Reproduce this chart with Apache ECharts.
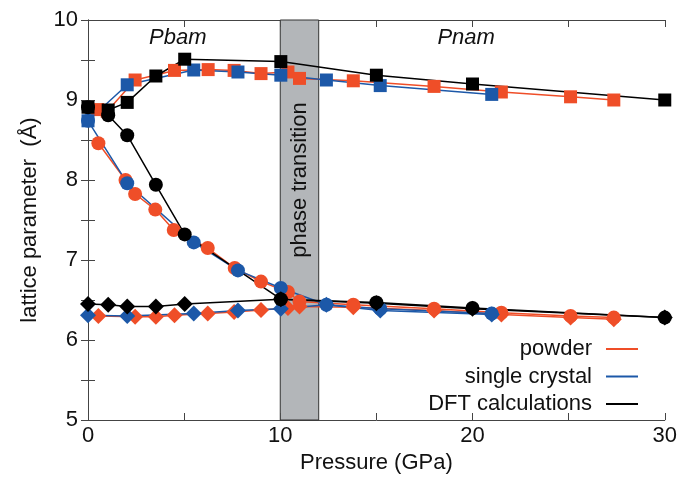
<!DOCTYPE html>
<html>
<head>
<meta charset="utf-8">
<script src="https://cdn.jsdelivr.net/npm/echarts@6/dist/echarts.min.js"></script>
<style>html,body{margin:0;padding:0;background:#fff}#c{width:680px;height:479px}</style>
</head>
<body>
<div id="c"></div>
<script>
// ---- data ----
var powderP_sq = [0.5, 1.0, 2.45, 4.5, 6.25, 7.6, 9.0, 10.4, 11.0, 13.8, 18.0, 21.5, 25.1, 27.35];
var powderB    = [8.88, 8.86, 9.25, 9.37, 9.38, 9.37, 9.33, 9.35, 9.27, 9.24, 9.17, 9.10, 9.04, 9.00];
var powderP_ci = [0.54, 1.95, 2.45, 3.5, 4.46, 6.23, 7.63, 9.0, 10.4, 11.0, 13.8, 18.0, 21.5, 25.1, 27.35];
var powderA    = [8.46, 8.0, 7.825, 7.63, 7.375, 7.15, 6.90, 6.73, 6.60, 6.48, 6.44, 6.39, 6.34, 6.30, 6.28];
var powderP_di = [0.54, 2.45, 3.53, 4.5, 6.23, 7.6, 9.0, 10.4, 11.0, 13.8, 18.0, 21.5, 25.1, 27.35];
var powderC    = [6.30, 6.29, 6.29, 6.31, 6.33, 6.35, 6.375, 6.40, 6.42, 6.41, 6.37, 6.32, 6.28, 6.26];

var crystalP = [0, 2.04, 5.5, 7.8, 10.03, 12.4, 15.2, 21.0];
var crystalB = [8.74, 9.19, 9.375, 9.35, 9.31, 9.25, 9.18, 9.07];
var crystalA = [8.74, 7.96, 7.22, 6.87, 6.65, 6.44, 6.39, 6.33];
var crystalC = [6.31, 6.30, 6.33, 6.37, 6.39, 6.44, 6.37, 6.32];

var dftP = [0, 1.05, 2.04, 3.53, 5.03, 10.03, 15, 20, 30];
var dftB = [8.91, 8.875, 8.97, 9.30, 9.51, 9.48, 9.31, 9.20, 9.00];
var dftA = [8.91, 8.81, 8.56, 7.94, 7.32, 6.51, 6.47, 6.40, 6.28];
var dftC = [6.45, 6.44, 6.42, 6.42, 6.45, 6.51, 6.46, 6.39, 6.28];

var xTickLabels = ['0', '10', '20', '30'];
var yTickLabels = ['5', '6', '7', '8', '9', '10'];
var transition = [10, 12];

var RED = '#ef4e28', BLUE = '#1c58a8', BLACK = '#000000';
var FONT = '"Liberation Sans", Arial, sans-serif';

function zip(xs, ys) { return xs.map(function (x, i) { return [x, ys[i]]; }); }
function ser(name, xs, ys, color, symbol, size) {
  return {
    name: name, type: 'line', data: zip(xs, ys), symbol: symbol, symbolSize: size,
    lineStyle: { color: color, width: 1.5 }, itemStyle: { color: color },
    emphasis: { disabled: true }, z: 3
  };
}

var series = [
  { name: 'band', type: 'line', data: [], z: 1,
    markArea: { silent: true,
      itemStyle: { color: '#b3b6b9', borderColor: '#333', borderWidth: 1 },
      data: [[{ xAxis: transition[0] }, { xAxis: transition[1] }]] } },
  ser('powder', powderP_sq, powderB, RED, 'rect', 13),
  ser('powder', powderP_ci, powderA, RED, 'circle', 14),
  ser('powder', powderP_di, powderC, RED, 'diamond', 16),
  ser('single crystal', crystalP, crystalB, BLUE, 'rect', 13),
  ser('single crystal', crystalP, crystalA, BLUE, 'circle', 14),
  ser('single crystal', crystalP, crystalC, BLUE, 'diamond', 16),
  ser('DFT calculations', dftP, dftB, BLACK, 'rect', 13),
  ser('DFT calculations', dftP, dftA, BLACK, 'circle', 14),
  ser('DFT calculations', dftP, dftC, BLACK, 'diamond', 16)
];

var axisLine = { show: true, lineStyle: { color: '#444', width: 1 } };
var tick = { show: true, inside: true, length: 7, lineStyle: { color: '#444' } };

var chart = echarts.init(document.getElementById('c'), null, { renderer: 'canvas' });
chart.setOption({
  animation: false,
  backgroundColor: '#fff',
  grid: { left: 88, right: 14, top: 20, bottom: 59 },
  legend: {
    data: ['powder', 'single crystal', 'DFT calculations'],
    orient: 'vertical', right: 42, top: 338, padding: 0, itemGap: 5.5,
    align: 'right', icon: 'rect', itemWidth: 32, itemHeight: 2,
    selectedMode: false,
    textStyle: { fontFamily: FONT, fontSize: 22, color: '#111', lineHeight: 22, padding: [0, 9, 0, 0] }
  },
  xAxis: [{
    type: 'value', min: 0, max: 30, interval: 5,
    name: 'Pressure (GPa)', nameLocation: 'middle', nameGap: 27,
    nameTextStyle: { fontFamily: FONT, fontSize: 22, color: '#111' },
    axisLine: axisLine, axisTick: tick, splitLine: { show: false },
    axisLabel: { fontFamily: FONT, fontSize: 22, color: '#111', margin: 5,
      formatter: function (v) { return xTickLabels.indexOf(String(v)) >= 0 ? String(v) : ''; } }
  }, {
    type: 'value', min: 0, max: 30, interval: 5, position: 'top',
    axisLine: axisLine, axisTick: tick, axisLabel: { show: false }, splitLine: { show: false }
  }],
  yAxis: [{
    type: 'value', min: 5, max: 10, interval: 0.5,
    name: 'lattice parameter  (Å)', nameLocation: 'middle', nameGap: 47, nameRotate: 90,
    nameTextStyle: { fontFamily: FONT, fontSize: 22, color: '#111' },
    axisLine: axisLine, axisTick: tick, splitLine: { show: false },
    axisLabel: { fontFamily: FONT, fontSize: 22, color: '#111', margin: 10,
      formatter: function (v) { return yTickLabels.indexOf(String(v)) >= 0 ? String(v) : ''; } }
  }, {
    type: 'value', min: 5, max: 10, interval: 0.5, position: 'right',
    axisLine: axisLine, axisTick: tick, axisLabel: { show: false }, splitLine: { show: false }
  }],
  series: series
});

function px(p, v) { return chart.convertToPixel({ xAxisIndex: 0, yAxisIndex: 0 }, [p, v]); }
var pPhase = px((transition[0] + transition[1]) / 2, 8.0);
var pPbam = px(4.67, 9.775);
var pPnam = px(19.67, 9.775);
chart.setOption({
  graphic: [
    { type: 'text', x: pPhase[0], y: pPhase[1], rotation: Math.PI / 2, z: 10,
      style: { text: 'phase transition', fontFamily: FONT, fontSize: 22, fill: '#111', align: 'center', verticalAlign: 'middle' } },
    { type: 'text', x: pPbam[0], y: pPbam[1], z: 10,
      style: { text: 'Pbam', fontFamily: FONT, fontSize: 22, fontStyle: 'italic', fill: '#111', align: 'center', verticalAlign: 'middle' } },
    { type: 'text', x: pPnam[0], y: pPnam[1], z: 10,
      style: { text: 'Pnam', fontFamily: FONT, fontSize: 22, fontStyle: 'italic', fill: '#111', align: 'center', verticalAlign: 'middle' } }
  ]
});
</script>
</body>
</html>
